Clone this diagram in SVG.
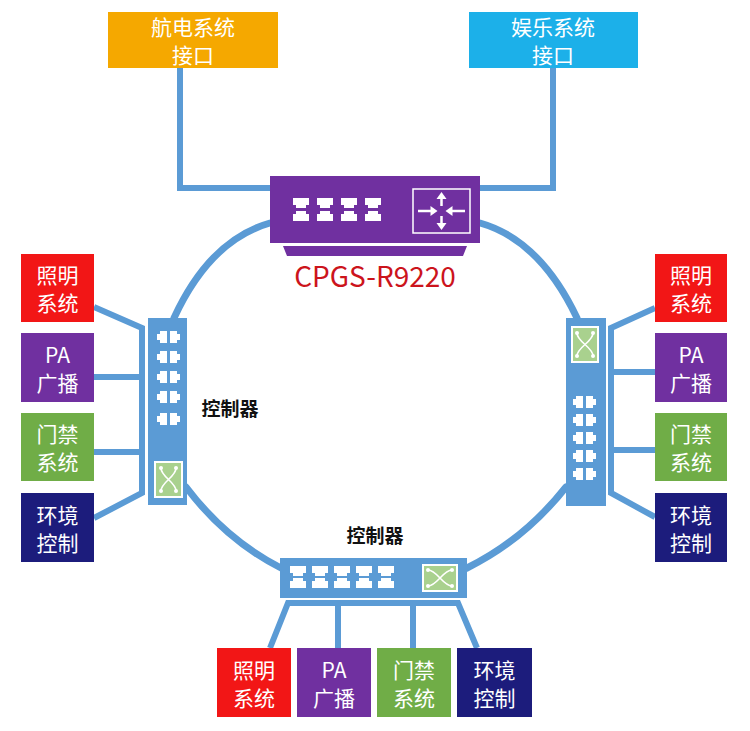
<svg xmlns="http://www.w3.org/2000/svg" xmlns:xlink="http://www.w3.org/1999/xlink" width="750" height="731" viewBox="0 0 750 731">
<style>
.box text{font-family:"Noto Sans CJK SC","Noto Sans",sans-serif;font-size:21px;fill:#fff;text-anchor:middle;dominant-baseline:central}
.lbl{font-family:"Noto Sans CJK SC","Noto Sans",sans-serif;font-size:19px;font-weight:bold;fill:#111;text-anchor:middle;dominant-baseline:central}
.ring{fill:none;stroke:#5b9bd5;stroke-width:7;stroke-linecap:round}
.wire{fill:none;stroke:#5b9bd5;stroke-width:6;stroke-linejoin:miter}
.sw{fill:#5b9bd5}
.port{fill:#fff}
.ico{fill:#a9d18e;stroke:#fff;stroke-width:2}
.x{fill:none;stroke:#fff;stroke-width:1.6}
.dot{fill:#fff}
</style>
<defs>
<path id="pt" d="M0,0h16v7h-3v3h-10v-3h-3z"/>
<path id="pb" d="M3,0h10v3h3v7h-16v-7h3z"/>
<path id="pl" d="M3,0h7v12h-7v-3h-3v-6h3z"/>
<path id="pr" d="M0,0h7v3h3v6h-3v3h-7z"/>
</defs>

<g id="connectors">
<path class="wire" d="M180,68V188H270"/>
<path class="wire" d="M553,68V188H480"/>
<path class="ring" d="M270,223Q210,240 174,318"/>
<path class="ring" d="M480,223Q540,240 577,318"/>
<path class="ring" d="M186,487Q226,540 281,568"/>
<path class="ring" d="M566,487Q524,540 467,568"/>
<path class="wire" d="M94,307L142,328V493L94,518"/>
<path class="wire" d="M94,377H142M94,452H142"/>
<path class="wire" d="M655,308L611,328V493L655,517"/>
<path class="wire" d="M655,372H611M655,450H611"/>
<path class="wire" d="M270,648L288,603H458L477,648"/>
<path class="wire" d="M338,603V648M413,603V648"/>
</g>

<g id="router">
<rect x="270" y="176" width="210" height="67" fill="#7030a0"/>
<polygon points="283,246 467,246 463,256 287,256" fill="#7030a0"/>
<g class="port">
<use href="#pt" x="293" y="198"/><use href="#pt" x="317" y="198"/><use href="#pt" x="341" y="198"/><use href="#pt" x="365" y="198"/>
<use href="#pb" x="293" y="211"/><use href="#pb" x="317" y="211"/><use href="#pb" x="341" y="211"/><use href="#pb" x="365" y="211"/>
</g>
<rect x="413" y="189" width="57" height="44" fill="none" stroke="#fff" stroke-width="1.5"/>
<g stroke="#fff" stroke-width="2.5">
<line x1="441.5" y1="206" x2="441.5" y2="197"/>
<line x1="441.5" y1="216" x2="441.5" y2="225"/>
<line x1="418" y1="211" x2="432" y2="211"/>
<line x1="465" y1="211" x2="451" y2="211"/>
</g>
<g fill="#fff">
<polygon points="441.5,192 436.5,199 446.5,199"/>
<polygon points="441.5,230 436.5,223 446.5,223"/>
<polygon points="437.5,211 430.5,206 430.5,216"/>
<polygon points="445.5,211 452.5,206 452.5,216"/>
</g>
<text x="375" y="287" font-family="Noto Sans CJK SC,Noto Sans,sans-serif" font-size="28" fill="#cc141c" text-anchor="middle">CPGS-R9220</text>
</g>

<g id="switch-left">
<rect class="sw" x="148" y="318" width="39" height="187"/>
<g class="port">
<use href="#pl" x="157" y="331"/><use href="#pr" x="170" y="331"/>
<use href="#pl" x="157" y="351"/><use href="#pr" x="170" y="351"/>
<use href="#pl" x="157" y="371"/><use href="#pr" x="170" y="371"/>
<use href="#pl" x="157" y="391"/><use href="#pr" x="170" y="391"/>
<use href="#pl" x="157" y="413"/><use href="#pr" x="170" y="413"/>
</g>
<rect class="ico" x="155" y="462" width="27" height="35"/>
<path class="x" d="M161,468C161,477 176,482 176,491M176,468C176,477 161,482 161,491"/>
<g class="dot"><circle cx="161" cy="468" r="2"/><circle cx="176" cy="468" r="2"/><circle cx="161" cy="491" r="2"/><circle cx="176" cy="491" r="2"/></g>
<text class="lbl" x="230" y="407">控制器</text>
</g>

<g id="switch-right">
<rect class="sw" x="566" y="318" width="40" height="188"/>
<rect class="ico" x="572" y="327" width="26" height="35"/>
<path class="x" d="M577,333C577,342 593,347 593,356M593,333C593,342 577,347 577,356"/>
<g class="dot"><circle cx="577" cy="333" r="2"/><circle cx="593" cy="333" r="2"/><circle cx="577" cy="356" r="2"/><circle cx="593" cy="356" r="2"/></g>
<g class="port">
<use href="#pl" x="573" y="396"/><use href="#pr" x="586" y="396"/>
<use href="#pl" x="573" y="414"/><use href="#pr" x="586" y="414"/>
<use href="#pl" x="573" y="432"/><use href="#pr" x="586" y="432"/>
<use href="#pl" x="573" y="450"/><use href="#pr" x="586" y="450"/>
<use href="#pl" x="573" y="468"/><use href="#pr" x="586" y="468"/>
</g>
</g>

<g id="switch-bottom">
<rect class="sw" x="280" y="558" width="187" height="40"/>
<g class="port">
<use href="#pt" x="290" y="566"/><use href="#pt" x="312" y="566"/><use href="#pt" x="334" y="566"/><use href="#pt" x="356" y="566"/><use href="#pt" x="378" y="566"/>
<use href="#pb" x="290" y="578"/><use href="#pb" x="312" y="578"/><use href="#pb" x="334" y="578"/><use href="#pb" x="356" y="578"/><use href="#pb" x="378" y="578"/>
</g>
<rect class="ico" x="423" y="565" width="34" height="26"/>
<path class="x" d="M428,570C437,570 443,586 452,586M428,586C437,586 443,570 452,570"/>
<g class="dot"><circle cx="428" cy="570" r="2"/><circle cx="452" cy="570" r="2"/><circle cx="428" cy="586" r="2"/><circle cx="452" cy="586" r="2"/></g>
<text class="lbl" x="375" y="534">控制器</text>
</g>

<g id="avionics" class="box"><rect x="108" y="12" width="170" height="56" fill="#f5a800"/><text x="193" y="26">航电系统</text><text x="193" y="54">接口</text></g>
<g id="entertainment" class="box"><rect x="469" y="12" width="169" height="56" fill="#1cb0e9"/><text x="553" y="26">娱乐系统</text><text x="553" y="54">接口</text></g>

<g id="l-light" class="box"><rect x="21" y="254" width="73" height="68" fill="#f21616"/><text x="57.5" y="274">照明</text><text x="57.5" y="302">系统</text></g>
<g id="l-pa" class="box"><rect x="21" y="333" width="73" height="69" fill="#7030a0"/><text x="57.5" y="353.5">PA</text><text x="57.5" y="381.5">广播</text></g>
<g id="l-door" class="box"><rect x="21" y="413" width="73" height="68" fill="#70ad47"/><text x="57.5" y="433">门禁</text><text x="57.5" y="461">系统</text></g>
<g id="l-env" class="box"><rect x="21" y="493" width="73" height="69" fill="#1c1c7c"/><text x="57.5" y="513.5">环境</text><text x="57.5" y="541.5">控制</text></g>

<g id="r-light" class="box"><rect x="655" y="254" width="72" height="68" fill="#f21616"/><text x="691" y="274">照明</text><text x="691" y="302">系统</text></g>
<g id="r-pa" class="box"><rect x="655" y="333" width="72" height="69" fill="#7030a0"/><text x="691" y="353.5">PA</text><text x="691" y="381.5">广播</text></g>
<g id="r-door" class="box"><rect x="655" y="413" width="72" height="68" fill="#70ad47"/><text x="691" y="433">门禁</text><text x="691" y="461">系统</text></g>
<g id="r-env" class="box"><rect x="655" y="493" width="72" height="69" fill="#1c1c7c"/><text x="691" y="513.5">环境</text><text x="691" y="541.5">控制</text></g>

<g id="b-light" class="box"><rect x="217" y="648" width="74" height="69" fill="#f21616"/><text x="254" y="668.5">照明</text><text x="254" y="696.5">系统</text></g>
<g id="b-pa" class="box"><rect x="297" y="648" width="74" height="69" fill="#7030a0"/><text x="334" y="668.5">PA</text><text x="334" y="696.5">广播</text></g>
<g id="b-door" class="box"><rect x="377" y="648" width="74" height="69" fill="#70ad47"/><text x="414" y="668.5">门禁</text><text x="414" y="696.5">系统</text></g>
<g id="b-env" class="box"><rect x="457" y="648" width="75" height="69" fill="#1c1c7c"/><text x="494.5" y="668.5">环境</text><text x="494.5" y="696.5">控制</text></g>
</svg>
